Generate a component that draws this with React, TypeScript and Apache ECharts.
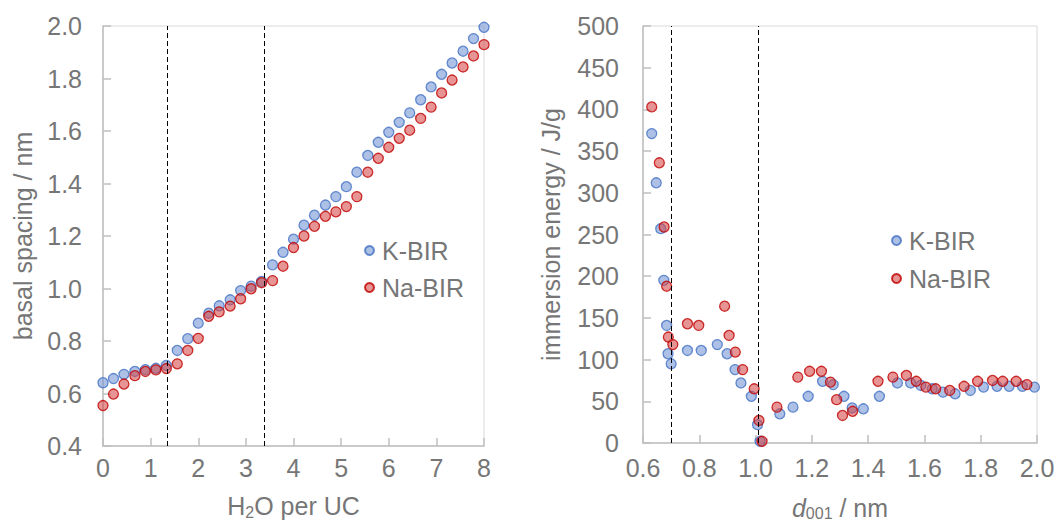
import React, { useEffect, useRef } from "react";
import * as echarts from "echarts";

// Left chart: basal spacing vs H2O per UC
const h2oPerUC = [0, 0.22, 0.44, 0.67, 0.89, 1.11, 1.33, 1.56, 1.78, 2.0, 2.22, 2.44, 2.67, 2.89, 3.11, 3.33, 3.56, 3.78, 4.0, 4.22, 4.44, 4.67, 4.89, 5.11, 5.33, 5.56, 5.78, 6.0, 6.22, 6.44, 6.67, 6.89, 7.11, 7.33, 7.56, 7.78, 8.0];
const kBasal = [0.641, 0.657, 0.673, 0.684, 0.691, 0.696, 0.707, 0.764, 0.809, 0.868, 0.906, 0.934, 0.957, 0.992, 1.009, 1.027, 1.09, 1.138, 1.188, 1.241, 1.279, 1.318, 1.35, 1.388, 1.443, 1.507, 1.557, 1.595, 1.633, 1.669, 1.719, 1.768, 1.816, 1.859, 1.904, 1.952, 1.995];
const naBasal = [0.554, 0.598, 0.636, 0.668, 0.684, 0.69, 0.695, 0.713, 0.764, 0.81, 0.894, 0.911, 0.933, 0.961, 0.999, 1.022, 1.03, 1.085, 1.156, 1.2, 1.237, 1.275, 1.292, 1.312, 1.35, 1.443, 1.496, 1.538, 1.572, 1.603, 1.648, 1.691, 1.745, 1.794, 1.844, 1.886, 1.929];
const leftDashed = [1.35, 3.38];

// Right chart: immersion energy vs d001
const kD001 = [0.631, 0.647, 0.663, 0.674, 0.684, 0.689, 0.7, 0.758, 0.807, 0.864, 0.899, 0.927, 0.948, 0.985, 1.007, 1.016, 1.086, 1.133, 1.187, 1.238, 1.276, 1.314, 1.343, 1.383, 1.44, 1.504, 1.551, 1.587, 1.628, 1.666, 1.709, 1.763, 1.81, 1.858, 1.901, 1.948, 1.991];
const kEnergy = [371, 312, 257, 195, 141, 107, 95, 111, 111, 118, 107, 88, 72, 56, 22, 2, 35, 43, 56, 74, 70, 56, 42, 41, 56, 72, 72, 69, 65, 61, 59, 63, 67, 68, 68, 68, 67];
const naD001 = [0.631, 0.658, 0.675, 0.684, 0.69, 0.706, 0.758, 0.798, 0.89, 0.906, 0.928, 0.954, 0.995, 1.012, 1.023, 1.076, 1.15, 1.192, 1.234, 1.266, 1.288, 1.309, 1.345, 1.435, 1.488, 1.536, 1.571, 1.605, 1.64, 1.69, 1.741, 1.789, 1.842, 1.878, 1.926, 1.964];
const naEnergy = [403, 336, 259, 188, 127, 118, 143, 141, 164, 129, 109, 88, 65, 27, 2, 43, 79, 86, 86, 73, 52, 33, 38, 74, 79, 81, 74, 67, 65, 63, 68, 74, 75, 74, 74, 70];
const rightDashed = [0.7, 1.01];

const seriesNames = ["K-BIR", "Na-BIR"];

const FONT = '"Liberation Sans", Arial, sans-serif';
const TEXT = "#767676";
const AXIS = "#bfbfbf";

const kStyle = { color: "rgba(112,146,210,0.72)", borderColor: "#4472c4", borderWidth: 1.3 };
const naStyle = { color: "rgba(214,70,70,0.72)", borderColor: "#c00000", borderWidth: 1.3 };

const zip = (xs: number[], ys: number[]) => xs.map((x, i) => [x, ys[i]]);

const dashedLines = (vals: number[]) => ({
  silent: true,
  symbol: ["none", "none"],
  label: { show: false },
  lineStyle: { color: "#000", type: [5, 3], width: 1 },
  data: vals.map((v) => ({ xAxis: v })),
});

const axisCommon = {
  type: "value",
  axisLine: { show: true, onZero: false, lineStyle: { color: AXIS, width: 1.5 } },
  axisTick: { show: true, inside: true, length: 8, lineStyle: { color: AXIS, width: 1.5 } },
  splitLine: { show: false },
};

const labelStyle = { color: TEXT, fontSize: 25, fontFamily: FONT };

export default function App() {
  const ref = useRef<HTMLDivElement>(null);
  useEffect(() => {
    if (!ref.current) return;
    const chart = echarts.init(ref.current, undefined, { renderer: "svg" });
    const option = {
      animation: false,
      textStyle: { fontFamily: FONT },
      grid: [
        {
          left: 103, top: 26, width: 381, height: 420,
          outerBoundsMode: "none", containLabel: false,
          show: true, borderColor: "#d9d9d9", borderWidth: 1,
        },
        {
          left: 643, top: 26, width: 394, height: 417,
          outerBoundsMode: "none", containLabel: false,
          show: true, borderColor: "#d9d9d9", borderWidth: 1,
        },
      ],
      legend: [
        {
          data: seriesNames,
          orient: "vertical",
          left: 359,
          top: 233,
          itemWidth: 9,
          itemHeight: 9,
          itemGap: 12,
          icon: "circle",
          textStyle: { ...labelStyle, lineHeight: 25, padding: [0, 0, 0, 3] },
        },
        {
          data: seriesNames,
          orient: "vertical",
          left: 886,
          top: 223,
          itemWidth: 9,
          itemHeight: 9,
          itemGap: 13,
          icon: "circle",
          textStyle: { ...labelStyle, lineHeight: 25, padding: [0, 0, 0, 3] },
        },
      ],
      xAxis: [
        {
          ...axisCommon,
          gridIndex: 0,
          min: 0,
          max: 8,
          interval: 1,
          axisLabel: { ...labelStyle, margin: 9 },
          name: "H{sub|2}O per UC",
          nameLocation: "middle",
          nameGap: 46,
          nameTextStyle: {
            ...labelStyle,
            rich: { sub: { color: TEXT, fontSize: 16, fontFamily: FONT, padding: [12, 0, 0, 0] } },
          },
        },
        {
          ...axisCommon,
          gridIndex: 1,
          min: 0.6,
          max: 2.0,
          interval: 0.2,
          axisLabel: { ...labelStyle, margin: 12, formatter: (v: number) => v.toFixed(1) },
          name: "{i|d}{sub|001} / nm",
          nameLocation: "middle",
          nameGap: 52,
          nameTextStyle: {
            ...labelStyle,
            rich: {
              i: { color: TEXT, fontSize: 25, fontFamily: FONT, fontStyle: "italic" },
              sub: { color: TEXT, fontSize: 16, fontFamily: FONT, padding: [10, 0, 0, 0] },
            },
          },
        },
      ],
      yAxis: [
        {
          ...axisCommon,
          gridIndex: 0,
          min: 0.4,
          max: 2.0,
          interval: 0.2,
          axisLabel: { ...labelStyle, margin: 21, formatter: (v: number) => v.toFixed(1) },
          name: "basal spacing / nm",
          nameLocation: "middle",
          nameGap: 68,
          nameTextStyle: labelStyle,
        },
        {
          ...axisCommon,
          gridIndex: 1,
          min: 0,
          max: 500,
          interval: 50,
          axisLabel: { ...labelStyle, margin: 24 },
          name: "immersion energy / J/g",
          nameLocation: "middle",
          nameGap: 80,
          nameTextStyle: labelStyle,
        },
      ],
      series: [
        {
          name: seriesNames[0],
          type: "scatter",
          xAxisIndex: 0,
          yAxisIndex: 0,
          symbol: "circle",
          symbolSize: 10,
          itemStyle: kStyle,
          data: zip(h2oPerUC, kBasal),
          markLine: dashedLines(leftDashed),
        },
        {
          name: seriesNames[1],
          type: "scatter",
          xAxisIndex: 0,
          yAxisIndex: 0,
          symbol: "circle",
          symbolSize: 10,
          itemStyle: naStyle,
          data: zip(h2oPerUC, naBasal),
        },
        {
          name: seriesNames[0],
          type: "scatter",
          xAxisIndex: 1,
          yAxisIndex: 1,
          symbol: "circle",
          symbolSize: 10,
          itemStyle: kStyle,
          data: zip(kD001, kEnergy),
          markLine: dashedLines(rightDashed),
        },
        {
          name: seriesNames[1],
          type: "scatter",
          xAxisIndex: 1,
          yAxisIndex: 1,
          symbol: "circle",
          symbolSize: 10,
          itemStyle: naStyle,
          data: zip(naD001, naEnergy),
        },
      ],
    };
    chart.setOption(option as any);
    return () => chart.dispose();
  }, []);
  return (
    <div
      ref={ref}
      style={{ position: "fixed", left: 0, top: 0, width: 1058, height: 524, background: "#fff" }}
    />
  );
}
